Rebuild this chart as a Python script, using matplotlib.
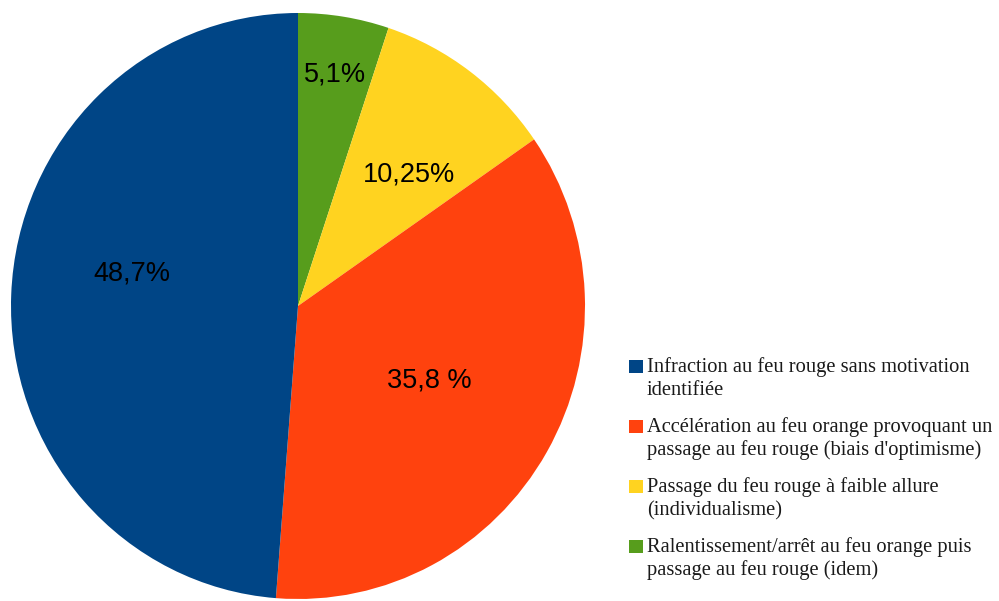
import numpy as np
import matplotlib
matplotlib.use("Agg")
import matplotlib.pyplot as plt
from matplotlib.patches import Rectangle

# data, in drawing order (clockwise from 12 o'clock)
values = [5.1, 10.25, 35.8, 48.7]
pct_labels = ["5,1%", "10,25%", "35,8 %", "48,7%"]
colors = ["#579d1c", "#ffd320", "#ff420e", "#004586"]
label_dist = [0.81, 0.60, 0.52, 0.59]

# legend entries (top to bottom)
legend_labels = [
    "Infraction au feu rouge sans motivation\nidentifiée",
    "Accélération au feu orange provoquant un\npassage au feu rouge (biais d'optimisme)",
    "Passage du feu rouge à faible allure\n(individualisme)",
    "Ralentissement/arrêt au feu orange puis\npassage au feu rouge (idem)",
]
legend_colors = ["#004586", "#ff420e", "#ffd320", "#579d1c"]

W, H = 999, 601
fig = plt.figure(figsize=(W / 100, H / 100), dpi=100)

# pie box in pixels: center (298, 306), rx 287, ry 293
cx, cy, rx, ry = 298, 306, 287, 293
ax = fig.add_axes([(cx - rx) / W, (H - cy - ry) / H, 2 * rx / W, 2 * ry / H])
wedges, _ = ax.pie(values, colors=colors, startangle=90, counterclock=False,
                   wedgeprops=dict(linewidth=0))
ax.set_aspect("auto")
ax.set_xlim(-1, 1)
ax.set_ylim(-1, 1)
ax.axis("off")

# label angle tweaks (LibreOffice doesn't sit them exactly at mid angle)
angle_fix = {"48,7%": 168, "10,25%": 50, "35,8 %": -28}
for w, txt, d in zip(wedges, pct_labels, label_dist):
    mid = angle_fix.get(txt, (w.theta1 + w.theta2) / 2)
    mid = np.deg2rad(mid)
    ax.text(d * np.cos(mid), d * np.sin(mid), txt, ha="center",
            va="center_baseline", fontsize=19.5, family="Liberation Sans",
            color="black")

# legend drawn by hand so the swatch sits on the first line
y0 = 372
for i, (lab, col) in enumerate(zip(legend_labels, legend_colors)):
    base = y0 + i * 60
    fig.patches.append(Rectangle((629 / W, (H - base - 1) / H), 14 / W, 13 / H,
                                 transform=fig.transFigure, facecolor=col,
                                 edgecolor="none"))
    for j, line in enumerate(lab.split("\n")):
        fig.text(647 / W, (H - base - j * 23) / H, line, ha="left", va="baseline",
                 fontsize=14.8, family="Liberation Serif", color="#1a1a1a")

fig.savefig("out.png", dpi=100)
